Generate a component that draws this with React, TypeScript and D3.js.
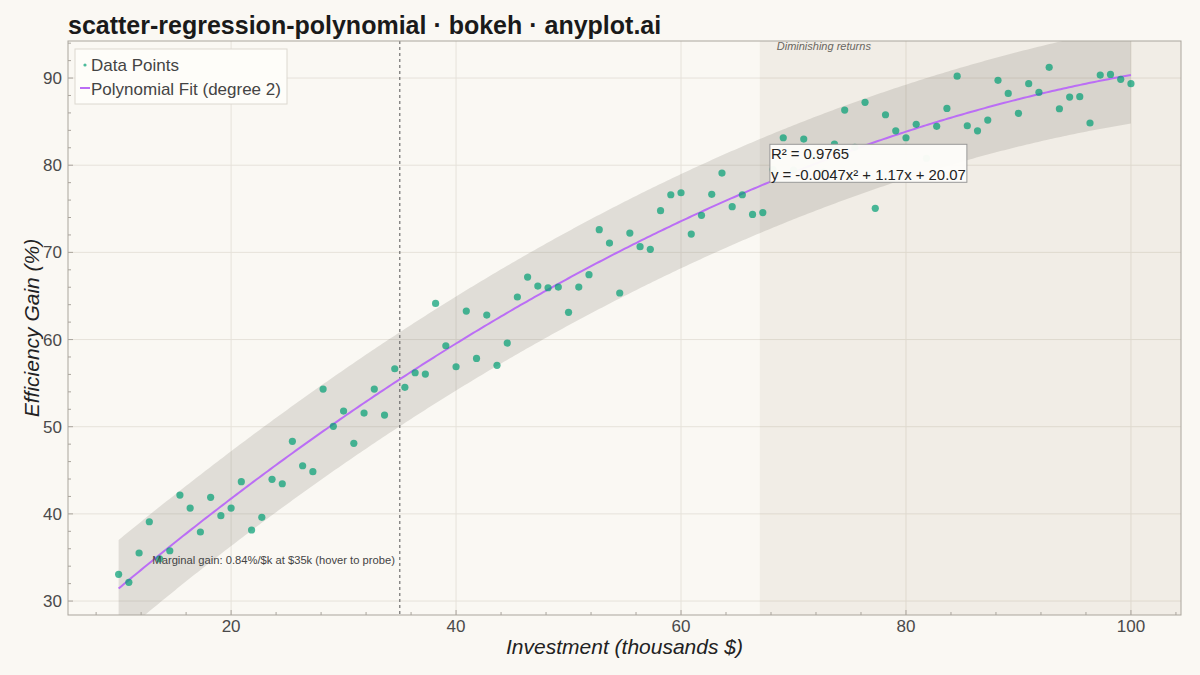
import { useEffect, useRef } from "react";
import * as d3 from "d3";

// Investment (thousands $)
const investment = [
  10.0, 10.91, 11.82, 12.73, 13.64, 14.55, 15.45, 16.36, 17.27, 18.18,
  19.09, 20.0, 20.91, 21.82, 22.73, 23.64, 24.55, 25.45, 26.36, 27.27,
  28.18, 29.09, 30.0, 30.91, 31.82, 32.73, 33.64, 34.55, 35.45, 36.36,
  37.27, 38.18, 39.09, 40.0, 40.91, 41.82, 42.73, 43.64, 44.55, 45.45,
  46.36, 47.27, 48.18, 49.09, 50.0, 50.91, 51.82, 52.73, 53.64, 54.55,
  55.45, 56.36, 57.27, 58.18, 59.09, 60.0, 60.91, 61.82, 62.73, 63.64,
  64.55, 65.45, 66.36, 67.27, 68.18, 69.09, 70.0, 70.91, 71.82, 72.73,
  73.64, 74.55, 75.45, 76.36, 77.27, 78.18, 79.09, 80.0, 80.91, 81.82,
  82.73, 83.64, 84.55, 85.45, 86.36, 87.27, 88.18, 89.09, 90.0, 90.91,
  91.82, 92.73, 93.64, 94.55, 95.45, 96.36, 97.27, 98.18, 99.09, 100.0,
];

// Efficiency gain (%)
const efficiency = [
  33.07, 32.15, 35.51, 39.1, 34.85, 35.77, 42.16, 40.67, 37.92, 41.9,
  39.79, 40.67, 43.69, 38.15, 39.6, 43.96, 43.46, 48.32, 45.52, 44.84,
  54.32, 50.04, 51.8, 48.09, 51.57, 54.32, 51.34, 56.65, 54.52, 56.19,
  56.04, 64.15, 59.29, 56.88, 63.27, 57.84, 62.81, 57.04, 59.6, 64.88,
  67.17, 66.14, 65.94, 66.02, 63.12, 66.02, 67.44, 72.6, 71.07, 65.34,
  72.22, 70.65, 70.35, 74.78, 76.61, 76.84, 72.1, 74.25, 76.66, 79.1,
  75.24, 76.61, 74.36, 74.57, 79.5, 83.15, 79.45, 83.0, 81.0, 79.2,
  82.41, 86.33, 82.05, 87.21, 75.06, 85.79, 83.95, 83.15, 84.69, 80.8,
  84.46, 86.52, 90.21, 84.53, 83.95, 85.18, 89.74, 88.24, 85.95, 89.35,
  88.36, 91.23, 86.48, 87.82, 87.86, 84.84, 90.34, 90.42, 89.85, 89.35,
];

const xTicks = [20, 40, 60, 80, 100];
const yTicks = [30, 40, 50, 60, 70, 80, 90];
const statsLines = ["R² = 0.9765", "y = -0.0047x² + 1.17x + 20.07"];
const probeX = 35;
const diminishingStart = 67;

const FONT = "'Liberation Sans', Arial, Helvetica, sans-serif";

// least squares fit of a degree-2 polynomial, plus prediction interval
function fitQuadratic(xs: number[], ys: number[]) {
  const S = [0, 0, 0, 0, 0];
  const T = [0, 0, 0];
  xs.forEach((x, i) => {
    for (let k = 0; k < 5; k++) S[k] += Math.pow(x, k);
    for (let k = 0; k < 3; k++) T[k] += ys[i] * Math.pow(x, k);
  });
  const m = [
    [S[0], S[1], S[2]],
    [S[1], S[2], S[3]],
    [S[2], S[3], S[4]],
  ];
  const det =
    m[0][0] * (m[1][1] * m[2][2] - m[1][2] * m[2][1]) -
    m[0][1] * (m[1][0] * m[2][2] - m[1][2] * m[2][0]) +
    m[0][2] * (m[1][0] * m[2][1] - m[1][1] * m[2][0]);
  const inv = [
    [
      (m[1][1] * m[2][2] - m[1][2] * m[2][1]) / det,
      (m[0][2] * m[2][1] - m[0][1] * m[2][2]) / det,
      (m[0][1] * m[1][2] - m[0][2] * m[1][1]) / det,
    ],
    [
      (m[1][2] * m[2][0] - m[1][0] * m[2][2]) / det,
      (m[0][0] * m[2][2] - m[0][2] * m[2][0]) / det,
      (m[0][2] * m[1][0] - m[0][0] * m[1][2]) / det,
    ],
    [
      (m[1][0] * m[2][1] - m[1][1] * m[2][0]) / det,
      (m[0][1] * m[2][0] - m[0][0] * m[2][1]) / det,
      (m[0][0] * m[1][1] - m[0][1] * m[1][0]) / det,
    ],
  ];
  const c = inv.map((row) => row[0] * T[0] + row[1] * T[1] + row[2] * T[2]);
  const predict = (x: number) => c[0] + c[1] * x + c[2] * x * x;
  let sse = 0;
  xs.forEach((x, i) => (sse += (ys[i] - predict(x)) ** 2));
  const s = Math.sqrt(sse / (xs.length - 3));
  const halfWidth = (x: number) => {
    const v = [1, x, x * x];
    let q = 0;
    for (let a = 0; a < 3; a++)
      for (let b = 0; b < 3; b++) q += v[a] * inv[a][b] * v[b];
    return 1.985 * s * Math.sqrt(1 + q);
  };
  return { predict, halfWidth };
}

export default function App() {
  const svgRef = useRef<SVGSVGElement | null>(null);
  const width = 1200;
  const height = 675;

  useEffect(() => {
    if (!svgRef.current) return;
    const svg = d3.select(svgRef.current);
    svg.selectAll("*").remove();

    const margin = { top: 41, right: 19, bottom: 60, left: 68 };
    const innerWidth = width - margin.left - margin.right;
    const innerHeight = height - margin.top - margin.bottom;

    const x = d3.scaleLinear().domain([5.5, 104.45]).range([0, innerWidth]);
    const y = d3.scaleLinear().domain([28.4, 94.25]).range([innerHeight, 0]);

    const { predict, halfWidth } = fitQuadratic(investment, efficiency);
    const curveX = d3.range(10, 100.0001, 0.25);

    svg
      .append("rect")
      .attr("width", width)
      .attr("height", height)
      .attr("fill", "#faf8f3");

    svg
      .append("defs")
      .append("clipPath")
      .attr("id", "plot-clip")
      .append("rect")
      .attr("width", innerWidth)
      .attr("height", innerHeight);

    const g = svg
      .append("g")
      .attr("transform", `translate(${margin.left},${margin.top})`);

    // grid
    g.selectAll(".xgrid")
      .data(xTicks)
      .enter()
      .append("line")
      .attr("x1", (d) => x(d))
      .attr("x2", (d) => x(d))
      .attr("y1", 0)
      .attr("y2", innerHeight)
      .attr("stroke", "#e6e2da")
      .attr("stroke-width", 1);
    g.selectAll(".ygrid")
      .data(yTicks)
      .enter()
      .append("line")
      .attr("x1", 0)
      .attr("x2", innerWidth)
      .attr("y1", (d) => y(d))
      .attr("y2", (d) => y(d))
      .attr("stroke", "#e6e2da")
      .attr("stroke-width", 1);

    const plot = g.append("g").attr("clip-path", "url(#plot-clip)");

    // diminishing returns region
    plot
      .append("rect")
      .attr("x", x(diminishingStart))
      .attr("y", 0)
      .attr("width", innerWidth - x(diminishingStart))
      .attr("height", innerHeight)
      .attr("fill", "#8a7350")
      .attr("fill-opacity", 0.08);

    // prediction band
    const band = d3
      .area<number>()
      .x((d) => x(d))
      .y0((d) => y(predict(d) - halfWidth(d)))
      .y1((d) => y(predict(d) + halfWidth(d)));
    plot
      .append("path")
      .datum(curveX)
      .attr("d", band)
      .attr("fill", "#7a7468")
      .attr("fill-opacity", 0.2);

    // probe line
    plot
      .append("line")
      .attr("x1", x(probeX))
      .attr("x2", x(probeX))
      .attr("y1", 0)
      .attr("y2", innerHeight)
      .attr("stroke", "#555")
      .attr("stroke-width", 1)
      .attr("stroke-dasharray", "3,3");

    // fit line
    const line = d3
      .line<number>()
      .x((d) => x(d))
      .y((d) => y(predict(d)));
    plot
      .append("path")
      .datum(curveX)
      .attr("d", line)
      .attr("fill", "none")
      .attr("stroke", "#bb6ef5")
      .attr("stroke-width", 2);

    // scatter points
    plot
      .selectAll(".pt")
      .data(investment)
      .enter()
      .append("circle")
      .attr("cx", (d) => x(d))
      .attr("cy", (_, i) => y(efficiency[i]))
      .attr("r", 3.6)
      .attr("fill", "#009E73")
      .attr("fill-opacity", 0.7);

    // annotations
    g.append("text")
      .attr("x", x(diminishingStart) + 17)
      .attr("y", 9)
      .attr("font-family", FONT)
      .attr("font-size", 11)
      .attr("font-style", "italic")
      .attr("fill", "#6a6660")
      .text("Diminishing returns");

    g.append("text")
      .attr("x", x(13.0))
      .attr("y", y(34.2))
      .attr("font-family", FONT)
      .attr("font-size", 11.2)
      .attr("fill", "#444")
      .text(`Marginal gain: 0.84%/$k at $${probeX}k (hover to probe)`);

    // stats box
    const bx = x(67.9);
    const by = y(82.4);
    g.append("rect")
      .attr("x", bx)
      .attr("y", by)
      .attr("width", 197)
      .attr("height", 38)
      .attr("fill", "#fdfcf9")
      .attr("fill-opacity", 0.97)
      .attr("stroke", "#999")
      .attr("stroke-width", 1);
    statsLines.forEach((t, i) => {
      g.append("text")
        .attr("x", bx + 1)
        .attr("y", by + 15 + i * 21)
        .attr("font-family", FONT)
        .attr("font-size", 14.9)
        .attr("fill", "#222")
        .text(t);
    });

    // frame
    g.append("rect")
      .attr("width", innerWidth)
      .attr("height", innerHeight)
      .attr("fill", "none")
      .attr("stroke", "#aaa59d")
      .attr("stroke-width", 1);

    // axes ticks (inside)
    const xMinor = d3.range(8, 104.1, 4);
    g.selectAll(".xminor")
      .data(xMinor)
      .enter()
      .append("line")
      .attr("x1", (d) => x(d))
      .attr("x2", (d) => x(d))
      .attr("y1", innerHeight)
      .attr("y2", (d) => innerHeight - (d % 20 === 0 ? 5 : 3))
      .attr("stroke", "#aaa59d");
    const yMinor = d3.range(30, 94.1, 2);
    g.selectAll(".yminor")
      .data(yMinor)
      .enter()
      .append("line")
      .attr("x1", 0)
      .attr("x2", (d) => (d % 10 === 0 ? 5 : 3))
      .attr("y1", (d) => y(d))
      .attr("y2", (d) => y(d))
      .attr("stroke", "#aaa59d");

    g.selectAll(".xlab")
      .data(xTicks)
      .enter()
      .append("text")
      .attr("x", (d) => x(d))
      .attr("y", innerHeight + 17)
      .attr("text-anchor", "middle")
      .attr("font-family", FONT)
      .attr("font-size", 17)
      .attr("fill", "#4a4a4a")
      .text((d) => d);
    g.selectAll(".ylab")
      .data(yTicks)
      .enter()
      .append("text")
      .attr("x", -6)
      .attr("y", (d) => y(d) + 6)
      .attr("text-anchor", "end")
      .attr("font-family", FONT)
      .attr("font-size", 17)
      .attr("fill", "#4a4a4a")
      .text((d) => d);

    // axis labels
    svg
      .append("text")
      .attr("x", margin.left + innerWidth / 2)
      .attr("y", 654)
      .attr("text-anchor", "middle")
      .attr("font-family", FONT)
      .attr("font-size", 21)
      .attr("font-style", "italic")
      .attr("fill", "#222")
      .text("Investment (thousands $)");
    svg
      .append("text")
      .attr("transform", "rotate(-90)")
      .attr("x", -(margin.top + innerHeight / 2))
      .attr("y", 39)
      .attr("text-anchor", "middle")
      .attr("font-family", FONT)
      .attr("font-size", 21)
      .attr("font-style", "italic")
      .attr("fill", "#222")
      .text("Efficiency Gain (%)");

    // title
    svg
      .append("text")
      .attr("x", 68)
      .attr("y", 34)
      .attr("font-family", FONT)
      .attr("font-size", 25)
      .attr("font-weight", "bold")
      .attr("fill", "#1a1a1a")
      .text("scatter-regression-polynomial · bokeh · anyplot.ai");

    // legend
    const lg = svg.append("g").attr("transform", "translate(75,49)");
    lg.append("rect")
      .attr("width", 212)
      .attr("height", 55)
      .attr("fill", "#fefdf9")
      .attr("stroke", "#dcd8d0")
      .attr("stroke-width", 1);
    lg.append("circle")
      .attr("cx", 10)
      .attr("cy", 16)
      .attr("r", 1.6)
      .attr("fill", "#009E73")
      .attr("fill-opacity", 0.7);
    lg.append("line")
      .attr("x1", 5)
      .attr("x2", 15)
      .attr("y1", 39)
      .attr("y2", 39)
      .attr("stroke", "#bb6ef5")
      .attr("stroke-width", 2);
    ["Data Points", "Polynomial Fit (degree 2)"].forEach((t, i) => {
      lg.append("text")
        .attr("x", 16)
        .attr("y", 22 + i * 24)
        .attr("font-family", FONT)
        .attr("font-size", 17)
        .attr("fill", "#444")
        .text(t);
    });
  }, []);

  return (
    <div style={{ position: "absolute", left: 0, top: 0 }}>
      <svg ref={svgRef} width={width} height={height} />
    </div>
  );
}
